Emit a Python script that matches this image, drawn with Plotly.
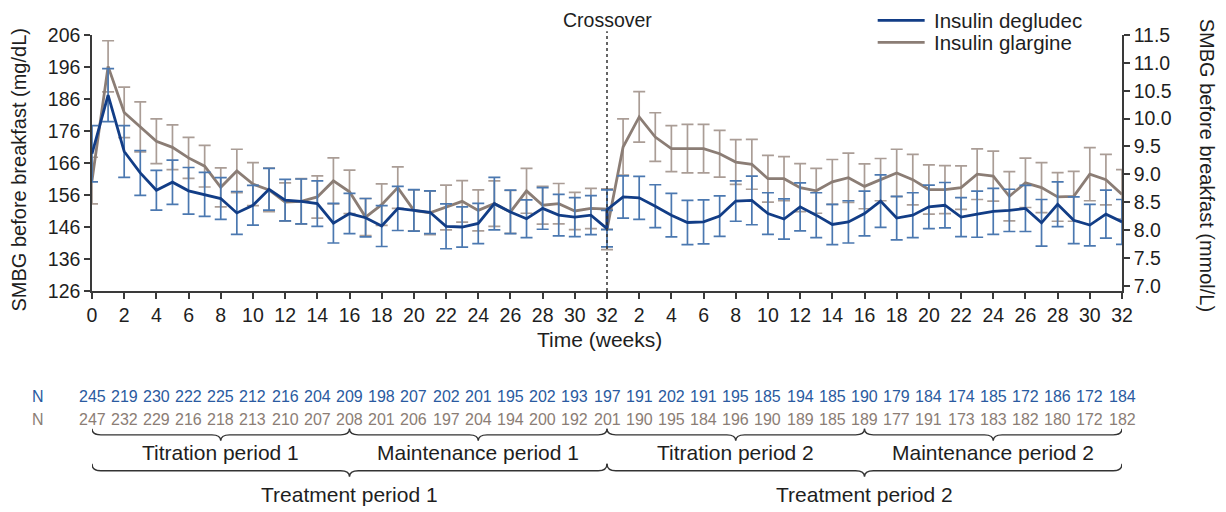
import plotly.graph_objects as go

# ---------------- data ----------------
weeks = list(range(0, 33))
# Period 1 (weeks 0-32) and Period 2 (weeks 0-32, after crossover)
degludec_p1 = [168.9, 187.2, 169.6, 162.9, 157.5, 160.0, 157.3, 156.2, 154.9, 150.4, 152.8,
               157.8, 154.4, 154.0, 153.3, 147.2, 150.2, 148.9, 146.3, 151.8, 151.2, 150.6,
               146.2, 146.0, 147.1, 153.3, 150.7, 148.6, 151.8, 149.7, 149.1, 149.7, 145.5]
degludec_p1_err = [8.8, 8.3, 8.1, 7.0, 6.2, 6.9, 7.3, 6.9, 6.5, 6.7, 6.2, 6.5, 6.5, 7.0, 7.1, 6.2,
                   6.3, 6.0, 6.4, 6.9, 6.5, 6.7, 7.0, 6.3, 6.3, 8.2, 6.8, 5.9, 6.5, 6.5, 6.1, 6.1, 5.7]
glargine_p1 = [160.5, 196.2, 181.8, 177.3, 172.8, 170.9, 167.6, 165.0, 158.4, 163.5, 159.4,
               157.6, 153.8, 154.0, 155.4, 160.4, 157.0, 149.1, 153.0, 158.3, 151.2, 150.4,
               152.1, 154.0, 151.2, 153.3, 150.7, 157.3, 152.8, 153.3, 151.0, 151.8, 151.6]
glargine_p1_err = [7.3, 8.0, 7.9, 7.8, 7.0, 7.0, 6.4, 6.5, 6.1, 6.8, 6.7, 6.8, 6.0, 7.1, 6.6, 7.2,
                   6.8, 5.8, 6.5, 6.5, 6.4, 6.8, 7.0, 6.5, 6.4, 7.1, 6.7, 7.0, 5.9, 6.3, 5.8, 6.3, 6.3]
degludec_p2 = [151.4, 155.4, 155.1, 152.5, 149.7, 147.4, 147.6, 149.4, 154.1, 154.3, 150.2,
               148.5, 152.3, 149.7, 146.8, 147.6, 150.2, 154.1, 148.8, 149.7, 152.3, 152.8,
               149.1, 150.0, 150.9, 151.2, 151.8, 147.3, 153.1, 148.1, 146.6, 150.0, 147.6]
degludec_p2_err = [6.2, 6.6, 6.7, 6.7, 6.8, 6.9, 6.9, 6.3, 6.3, 7.6, 6.5, 6.3, 7.5, 7.0, 6.3, 6.6,
                   7.0, 8.2, 6.8, 7.0, 6.8, 7.1, 6.1, 7.2, 7.2, 6.6, 7.2, 7.3, 7.0, 7.3, 6.5, 7.5, 7.0]
glargine_p2 = [145.2, 171.0, 180.4, 174.1, 170.5, 170.5, 170.5, 168.9, 166.3, 165.6, 161.1,
               161.1, 158.3, 157.3, 160.1, 161.4, 158.7, 160.8, 162.9, 160.8, 157.7, 157.7,
               158.3, 162.5, 161.9, 155.6, 159.8, 158.3, 155.4, 155.6, 162.5, 160.8, 156.2]
glargine_p2_err = [6.3, 8.8, 7.9, 7.6, 7.2, 7.6, 7.6, 7.3, 7.0, 7.8, 7.3, 6.9, 7.5, 7.0, 7.0, 7.7,
                   7.0, 6.6, 7.4, 7.9, 7.7, 7.5, 6.8, 7.9, 7.8, 7.7, 7.7, 7.8, 7.6, 7.8, 8.3, 7.9, 7.7]

n_degludec = [245, 219, 230, 222, 225, 212, 216, 204, 209, 198, 207, 202, 201, 195, 202, 193, 197,
              191, 202, 191, 195, 185, 194, 185, 190, 179, 184, 174, 185, 172, 186, 172, 184]
n_glargine = [247, 232, 229, 216, 218, 213, 210, 207, 208, 201, 206, 197, 204, 194, 200, 192, 201,
              190, 195, 184, 196, 190, 189, 185, 189, 177, 191, 173, 183, 182, 180, 172, 182]

left_ticks = [126, 136, 146, 156, 166, 176, 186, 196, 206]
right_ticks = [7.0, 7.5, 8.0, 8.5, 9.0, 9.5, 10.0, 10.5, 11.0, 11.5]
x_tick_labels = [str(w) for w in range(0, 33, 2)] + [str(w) for w in range(2, 33, 2)]

series_names = ["Insulin degludec", "Insulin glargine"]

periods = [("Titration period 1", 0, 16), ("Maintenance period 1", 16, 32),
           ("Titration period 2", 32, 48), ("Maintenance period 2", 48, 64)]
treatments = [("Treatment period 1", 0, 32), ("Treatment period 2", 32, 64)]

# ---------------- derived ----------------
P = 32
x_all = weeks + [P + w for w in weeks]
deg_y = degludec_p1 + degludec_p2
deg_e = degludec_p1_err + degludec_p2_err
gla_y = glargine_p1 + glargine_p2
gla_e = glargine_p1_err + glargine_p2_err
tickvals_x = list(range(0, 65, 2))

BLUE = "#123d86"
BLUE_ERR = "#4b78b0"
GRAY = "#8b7d75"
GRAY_ERR = "#aa9d96"
NBLUE = "#2a5aa0"
FONT = "Liberation Sans, Arial, sans-serif"
AX = "#3a3a3a"
TXT = "#1e1e1e"
W, H = 1226, 512
OFF = 8  # page body margin

# plot area in screen pixels
TOP, BOT, LEFT, RIGHT = 34.7, 291.0, 91.7, 1122.5


def py(Y):
    return (BOT - Y) / (BOT - TOP)


def px(X):
    return (X - LEFT) / (RIGHT - LEFT)


fig = go.Figure()
fig.add_trace(go.Scatter(
    x=x_all, y=gla_y, mode="lines", name=series_names[1],
    line=dict(color=GRAY, width=2.8),
    error_y=dict(type="data", array=gla_e, color=GRAY_ERR, thickness=1.7, width=6),
    cliponaxis=False, showlegend=False))
fig.add_trace(go.Scatter(
    x=x_all, y=deg_y, mode="lines", name=series_names[0],
    line=dict(color=BLUE, width=2.8),
    error_y=dict(type="data", array=deg_e, color=BLUE_ERR, thickness=1.7, width=6),
    cliponaxis=False, showlegend=False))
# right axis holder
fig.add_trace(go.Scatter(x=[None], y=[None], yaxis="y2", showlegend=False, hoverinfo="skip"))

annotations = []
shapes = []


def f(size, color=TXT):
    return dict(size=size, color=color, family=FONT)


def ann(text, x, y, xref="paper", font=None, angle=0, xanchor="center"):
    annotations.append(dict(text=text, xref=xref, yref="paper", x=x, y=y, textangle=angle,
                            showarrow=False, font=font or f(21), xanchor=xanchor,
                            yanchor="middle", borderpad=0))


ann("SMBG before breakfast (mg/dL)", px(19), py(170), font=f(20), angle=-90)
ann("SMBG before breakfast (mmol/L)", px(1207), py(165), font=f(20), angle=90)
ann("Time (weeks)", px(600), py(340), font=f(21))
ann("Crossover", P, py(20), xref="x", font=f(19.5))

# manual legend
for i, (name, col) in enumerate(zip(series_names, [BLUE, GRAY])):
    Y = 20 + 22 * i
    shapes.append(dict(type="line", xref="paper", yref="paper", x0=px(878), x1=px(925),
                       y0=py(Y), y1=py(Y), line=dict(color=col, width=2.8)))
    ann(name, px(933), py(Y), xanchor="left", font=f(20.5))

# N rows
nfont_b = f(16, NBLUE)
nfont_g = f(16, GRAY)
ann("N", px(38), py(397), font=nfont_b)
ann("N", px(38), py(420), font=nfont_g)
for xv, nd, ng in zip(tickvals_x, n_degludec, n_glargine):
    ann(str(nd), xv, py(397), xref="x", font=nfont_b)
    ann(str(ng), xv, py(420), xref="x", font=nfont_g)


def brace(x0, x1, yt, yl, ytip, r=0.55):
    xm = (x0 + x1) / 2
    return (f"M {x0},{py(yt)} Q {x0},{py(yl)} {x0 + r},{py(yl)} L {xm - r},{py(yl)} "
            f"Q {xm},{py(yl)} {xm},{py(ytip)} Q {xm},{py(yl)} {xm + r},{py(yl)} "
            f"L {x1 - r},{py(yl)} Q {x1},{py(yl)} {x1},{py(yt)}")


for label, a, b in periods:
    shapes.append(dict(type="path", xref="x", yref="paper", path=brace(a, b, 429, 435, 441),
                       line=dict(color="#333", width=1.4)))
    ann(label, (a + b) / 2, py(453), xref="x")
for label, a, b in treatments:
    shapes.append(dict(type="path", xref="x", yref="paper", path=brace(a, b, 464, 471, 477),
                       line=dict(color="#333", width=1.4)))
    ann(label, (a + b) / 2, py(495), xref="x")

# crossover dotted line
shapes.append(dict(type="line", xref="x", yref="paper", x0=P, x1=P, y0=0, y1=py(31),
                   line=dict(color="#333", width=1.5, dash="dot")))

axis_common = dict(showline=True, linecolor=AX, linewidth=1.5, ticks="outside", ticklen=6,
                   tickcolor=AX, tickwidth=1.5, showgrid=False, zeroline=False,
                   automargin=False, tickfont=f(19.5))

fig.update_layout(
    width=W, height=H,
    margin=dict(l=LEFT - OFF, r=W - (RIGHT - OFF), t=TOP - OFF, b=H - (BOT - OFF),
                autoexpand=False),
    paper_bgcolor="white", plot_bgcolor="white",
    font=dict(family=FONT, size=17, color=TXT),
    showlegend=False,
    xaxis=dict(range=[0, 64], tickvals=tickvals_x, ticktext=x_tick_labels, **axis_common),
    yaxis=dict(range=[126, 206], tickvals=left_ticks, **axis_common),
    yaxis2=dict(range=[11.5 - 4.593, 11.5], tickvals=right_ticks, tickformat=".1f",
                overlaying="y", side="right", **axis_common),
    annotations=annotations,
    shapes=shapes,
)

fig.write_html("out.html")
